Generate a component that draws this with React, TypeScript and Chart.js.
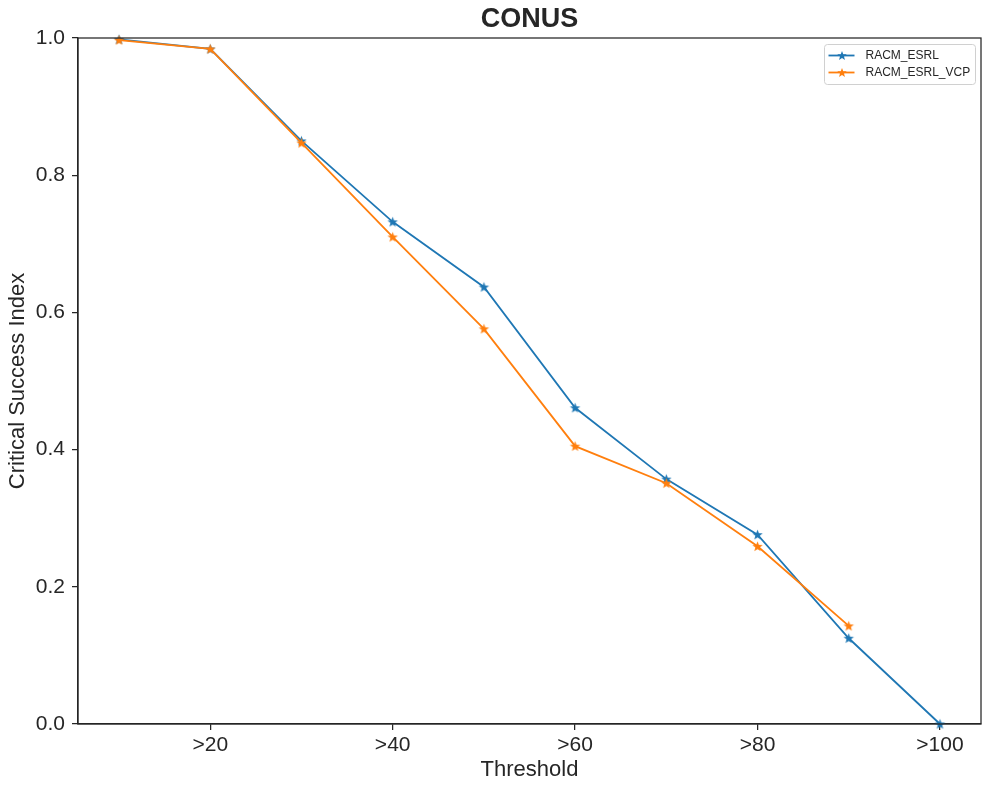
import React, { useEffect, useRef } from "react";
import { Chart, registerables } from "chart.js";

Chart.register(...registerables);

const thresholds = [10, 20, 30, 40, 50, 60, 70, 80, 90, 100];
const racmEsrl = [0.998, 0.984, 0.85, 0.732, 0.637, 0.461, 0.357, 0.276, 0.125, 0.0];
const racmEsrlVcp = [0.997, 0.984, 0.847, 0.71, 0.576, 0.405, 0.351, 0.259, 0.143];
const xTicks = [20, 40, 60, 80, 100];
const yTicks = [0, 0.2, 0.4, 0.6, 0.8, 1.0];
const seriesNames = ["RACM_ESRL", "RACM_ESRL_VCP"];
const seriesColors = ["#1f77b4", "#ff7f0e"];
const chartTitle = "CONUS";

const TEXT = "#262626";
const FONT = "'Liberation Sans', Arial, sans-serif";

function drawStar(ctx: CanvasRenderingContext2D, cx: number, cy: number, r: number, color: string) {
  ctx.beginPath();
  for (let i = 0; i < 10; i++) {
    const rad = i % 2 === 0 ? r : r * 0.42;
    const a = -Math.PI / 2 + (i * Math.PI) / 5;
    const x = cx + rad * Math.cos(a);
    const y = cy + rad * Math.sin(a);
    if (i === 0) ctx.moveTo(x, y);
    else ctx.lineTo(x, y);
  }
  ctx.closePath();
  ctx.fillStyle = color;
  ctx.fill();
}

function starCanvas(color: string) {
  const c = document.createElement("canvas");
  c.width = 13;
  c.height = 13;
  const ctx = c.getContext("2d")!;
  drawStar(ctx, 6.5, 6.9, 5.5, color);
  return c;
}

export default function App() {
  const ref = useRef<HTMLCanvasElement | null>(null);

  useEffect(() => {
    document.body.style.margin = "0";
    const canvas = ref.current!;
    const stars = seriesColors.map(starCanvas);

    const boxPlugin = {
      id: "boxPlugin",
      afterDraw(chart: any) {
        const { ctx, chartArea } = chart;
        ctx.save();
        ctx.strokeStyle = TEXT;
        ctx.lineWidth = 1.25;
        ctx.strokeRect(chartArea.left, chartArea.top, chartArea.right - chartArea.left, chartArea.bottom - chartArea.top);

        // title centred over the plot area
        ctx.fillStyle = TEXT;
        ctx.font = `bold 27px ${FONT}`;
        ctx.textAlign = "center";
        ctx.textBaseline = "middle";
        ctx.fillText(chartTitle, (chartArea.left + chartArea.right) / 2, 20);

        // legend inside the plot, top right
        const w = 151, h = 40;
        const x = Math.round(chartArea.right - 6 - w) + 0.5;
        const y = Math.round(chartArea.top + 6) + 0.5;
        const r = 3;
        ctx.fillStyle = "rgba(255,255,255,0.8)";
        ctx.strokeStyle = "#d0d0d0";
        ctx.lineWidth = 1;
        ctx.beginPath();
        ctx.moveTo(x + r, y);
        ctx.lineTo(x + w - r, y);
        ctx.quadraticCurveTo(x + w, y, x + w, y + r);
        ctx.lineTo(x + w, y + h - r);
        ctx.quadraticCurveTo(x + w, y + h, x + w - r, y + h);
        ctx.lineTo(x + r, y + h);
        ctx.quadraticCurveTo(x, y + h, x, y + h - r);
        ctx.lineTo(x, y + r);
        ctx.quadraticCurveTo(x, y, x + r, y);
        ctx.closePath();
        ctx.fill();
        ctx.stroke();
        seriesNames.forEach((name, i) => {
          const cy = y + 11 + i * 17;
          ctx.strokeStyle = seriesColors[i];
          ctx.lineWidth = 1.8;
          ctx.beginPath();
          ctx.moveTo(x + 4, cy);
          ctx.lineTo(x + 30, cy);
          ctx.stroke();
          drawStar(ctx, x + 17.5, cy + 0.4, 5, seriesColors[i]);
          ctx.fillStyle = TEXT;
          ctx.font = `12px ${FONT}`;
          ctx.textBaseline = "middle";
          ctx.textAlign = "left";
          ctx.fillText(name, x + 41, cy);
        });
        ctx.restore();
      },
    };

    const chart = new Chart(canvas, {
      type: "line",
      data: {
        datasets: [
          {
            label: seriesNames[0],
            data: thresholds.map((x, i) => ({ x, y: racmEsrl[i] })),
            borderColor: seriesColors[0],
            backgroundColor: seriesColors[0],
            borderWidth: 1.8,
            pointStyle: stars[0] as any,
            pointRadius: 5,
            tension: 0,
            order: 1,
          },
          {
            label: seriesNames[1],
            data: racmEsrlVcp.map((y, i) => ({ x: thresholds[i], y })),
            borderColor: seriesColors[1],
            backgroundColor: seriesColors[1],
            borderWidth: 1.8,
            pointStyle: stars[1] as any,
            pointRadius: 5,
            tension: 0,
            order: 0,
          },
        ],
      },
      options: {
        animation: false,
        responsive: false,
        maintainAspectRatio: false,
        clip: false as any,
        layout: { padding: { left: 0, right: 10, top: 38, bottom: 0 } },
        plugins: {
          title: { display: false },
          legend: { display: false },
          tooltip: { enabled: false },
        },
        scales: {
          x: {
            type: "linear",
            min: 5.5,
            max: 104.5,
            afterBuildTicks: (scale: any) => {
              scale.ticks = xTicks.map((v) => ({ value: v }));
            },
            afterFit: (scale: any) => {
              scale.height = 67;
            },
            ticks: {
              color: TEXT,
              font: { family: FONT, size: 21 },
              padding: 3,
              maxRotation: 0,
              autoSkip: false,
              callback: (v: any) => ">" + v,
            },
            grid: { drawOnChartArea: false, drawTicks: true, tickLength: 6, color: TEXT, lineWidth: 1.25 },
            border: { display: true, color: TEXT, width: 1.25 },
            title: {
              display: true,
              text: "Threshold",
              color: TEXT,
              font: { family: FONT, size: 22 },
              padding: { top: 0, bottom: 8 },
            },
          },
          y: {
            type: "linear",
            min: 0,
            max: 1,
            afterBuildTicks: (scale: any) => {
              scale.ticks = yTicks.map((v) => ({ value: v }));
            },
            afterFit: (scale: any) => {
              scale.width = 78;
            },
            ticks: {
              color: TEXT,
              font: { family: FONT, size: 21 },
              padding: 7,
              callback: (v: any) => Number(v).toFixed(1),
            },
            grid: { drawOnChartArea: false, drawTicks: true, tickLength: 6, color: TEXT, lineWidth: 1.25 },
            border: { display: true, color: TEXT, width: 1.25 },
            title: {
              display: true,
              text: "Critical Success Index",
              color: TEXT,
              font: { family: FONT, size: 22 },
              padding: { top: 5, bottom: 0 },
            },
          },
        },
      },
      plugins: [boxPlugin],
    } as any);

    return () => chart.destroy();
  }, []);

  return (
    <div style={{ width: 991, height: 791, background: "#fff" }}>
      <canvas ref={ref} width={991} height={791} style={{ display: "block" }} />
    </div>
  );
}
